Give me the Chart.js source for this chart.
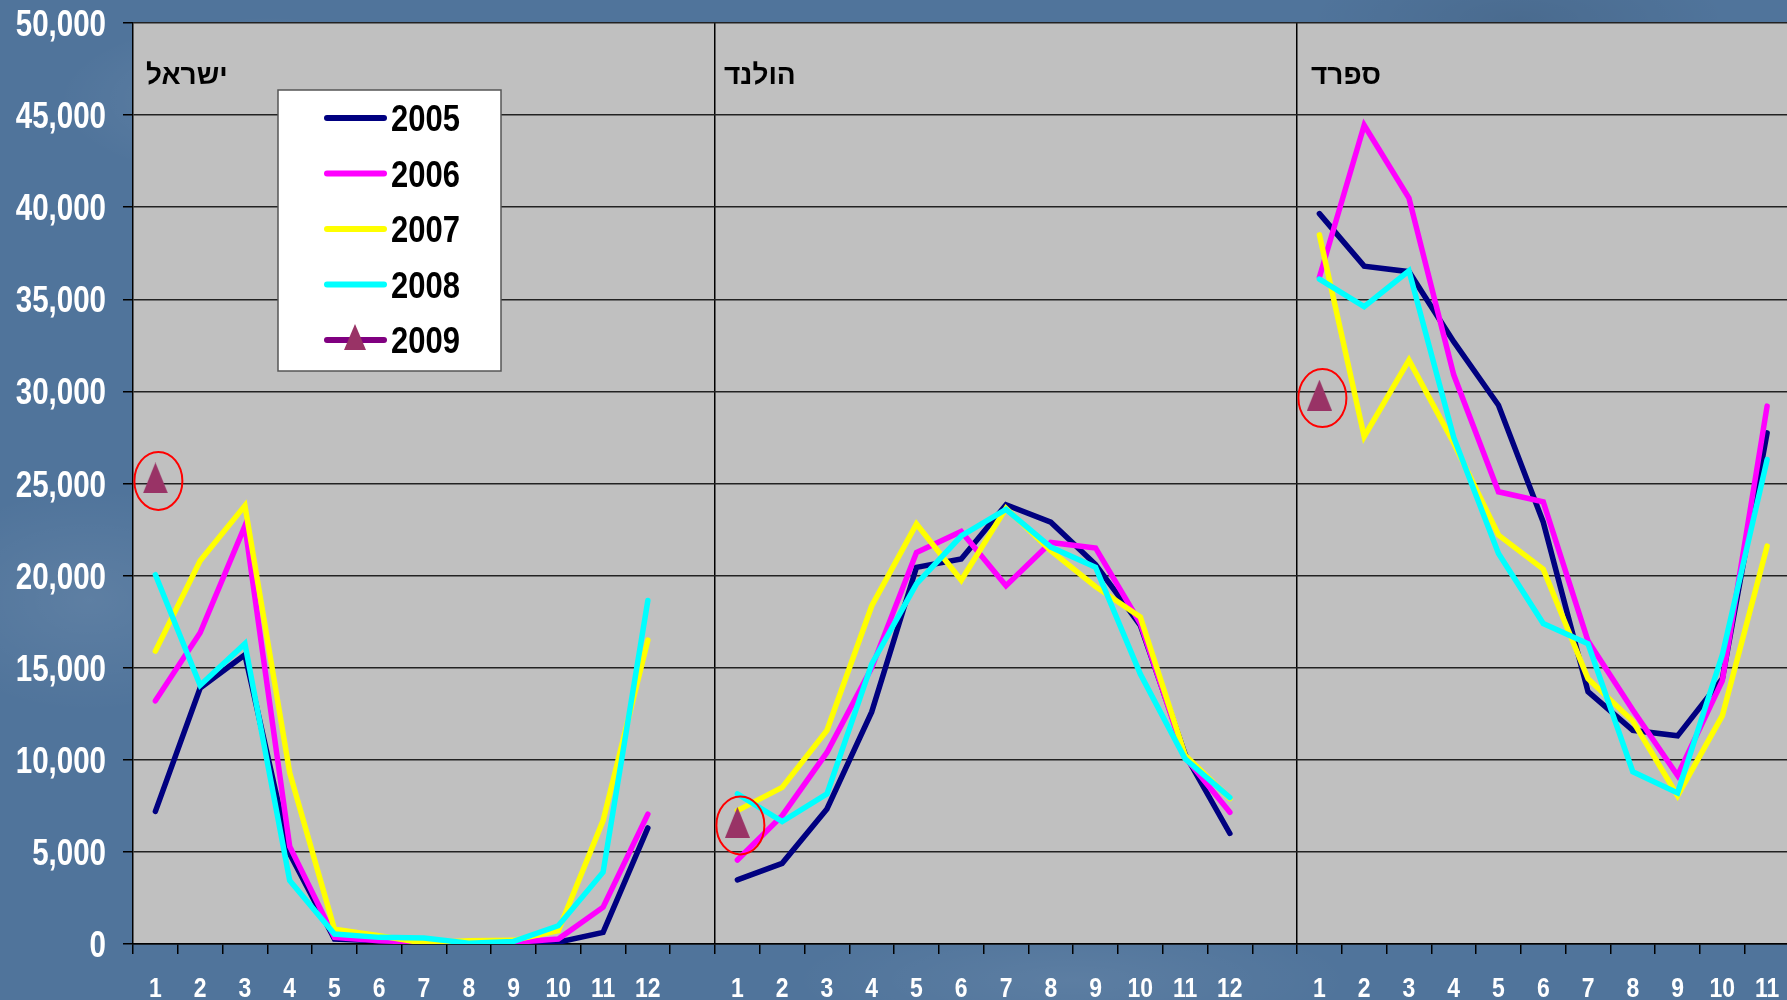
<!DOCTYPE html>
<html>
<head>
<meta charset="utf-8">
<script src="https://cdn.jsdelivr.net/npm/chart.js@4.4.1/dist/chart.umd.min.js"></script>
<style>
  html, body { margin: 0; padding: 0; width: 1787px; height: 1000px; overflow: hidden; }
  body {
    background-color: #50749b;
    background-image:
      radial-gradient(ellipse 300px 120px at 15% 10%, rgba(255,255,255,0.10), transparent 70%),
      radial-gradient(ellipse 250px 160px at 5% 60%, rgba(255,255,255,0.08), transparent 70%),
      radial-gradient(ellipse 400px 90px at 60% 98%, rgba(255,255,255,0.07), transparent 70%),
      radial-gradient(ellipse 300px 100px at 85% 2%, rgba(0,0,0,0.08), transparent 70%);
  }
  canvas { display: block; }
</style>
</head>
<body>
<!-- a few px wider than the window: the plot runs off the right edge like the slide -->
<canvas id="myChart" width="1790" height="1000"></canvas>
<script>
//~==== data ====~//
const months = ['1','2','3','4','5','6','7','8','9','10','11','12'];
const panelNames = ['ישראל', 'הולנד', 'ספרד'];
const years = ['2005', '2006', '2007', '2008', '2009'];

// ישראל
const isr2005 = [7200, 13900, 15700, 4900, 270, 180, 90, 0, 0, 100, 630, 6300];
const isr2006 = [13200, 16900, 22700, 5300, 360, 180, 90, 0, 90, 270, 2000, 7050];
const isr2007 = [15900, 20800, 23800, 9300, 800, 450, 50, 180, 200, 720, 6700, 16500];
const isr2008 = [20050, 14050, 16300, 3450, 540, 360, 330, 40, 140, 990, 3900, 18650];
const isr2009 = [25300];

// הולנד
const nld2005 = [3480, 4380, 7330, 12600, 20450, 20900, 23850, 22900, 20600, 17300, 10300, 6000];
const nld2006 = [4560, 6970, 10400, 15000, 21250, 22400, 19450, 21800, 21500, 17400, 10150, 7150];
const nld2007 = [7240, 8500, 11600, 18350, 22800, 19750, 23650, 21350, 19400, 17750, 10250, 7900];
const nld2008 = [8150, 6650, 8150, 15200, 19550, 22150, 23600, 21550, 20450, 14650, 10050, 7950];
const nld2009 = [6600];

// ספרד
const esp2005 = [39650, 36800, 36500, 32700, 29250, 22900, 13700, 11600, 11300, 14400, 27750];
const esp2006 = [36200, 44450, 40500, 30900, 24550, 24000, 16450, 12700, 9150, 14300, 29200];
const esp2007 = [38500, 27550, 31700, 27200, 22200, 20350, 14400, 12100, 8050, 12400, 21600];
const esp2008 = [36100, 34600, 36550, 27500, 21200, 17400, 16300, 9350, 8200, 15700, 26300];
const esp2009 = [29800];

const colors2005 = '#000080';
const colors2006 = '#ff00ff';
const colors2007 = '#ffff00';
const colors2008 = '#00ffff';
const line2009 = '#800080';
const marker2009 = '#993366';

//~==== build the long category axis: 3 panels, a blank slot between ====~//
const PANEL = 13;
const spainMonths = 11;   // picture is cut after month 11
const labels = [...months, '', ...months, '', ...months.slice(0, spainMonths)];

function pad(arr, n) {
  const out = arr.slice();
  while (out.length < n) out.push(null);
  return out;
}
function joinPanels(a, b, c) {
  return [...pad(a, PANEL), ...pad(b, PANEL), ...c.slice(0, spainMonths)];
}

function makeTriangle(w, h, color) {
  const c = document.createElement('canvas');
  c.width = w; c.height = h;
  const g = c.getContext('2d');
  g.fillStyle = color;
  g.beginPath();
  g.moveTo(w / 2, 0);
  g.lineTo(w, h);
  g.lineTo(0, h);
  g.closePath();
  g.fill();
  return c;
}
const triangle = makeTriangle(25, 31, marker2009);
const smallTriangle = makeTriangle(22, 26, marker2009);

const FONT = "'Liberation Sans', Arial, sans-serif";
const NARROW = 0.82;   // Arial Narrow look

function lineSet(label, data, color, order) {
  return {
    label: label,
    data: data,
    borderColor: color,
    backgroundColor: color,
    borderWidth: 5.5,
    borderJoinStyle: 'miter',
    borderCapStyle: 'round',
    pointRadius: 0,
    pointHoverRadius: 0,
    spanGaps: false,
    tension: 0,
    order: order,
  };
}

const datasets = [
  lineSet(years[0], joinPanels(isr2005, nld2005, esp2005), colors2005, 5),
  lineSet(years[1], joinPanels(isr2006, nld2006, esp2006), colors2006, 4),
  lineSet(years[2], joinPanels(isr2007, nld2007, esp2007), colors2007, 3),
  lineSet(years[3], joinPanels(isr2008, nld2008, esp2008), colors2008, 2),
  {
    label: years[4],
    data: joinPanels(isr2009, nld2009, esp2009),
    borderColor: line2009,
    backgroundColor: marker2009,
    showLine: false,
    pointStyle: triangle,
    pointRadius: 0.5,       // image is drawn at its own size; keep layout padding small
    pointBorderWidth: 0,
    pointHoverRadius: 0.5,
    order: 1,
  },
];

// draw text squeezed sideways
function narrowText(ctx, text, x, y, align, sx) {
  ctx.save();
  ctx.translate(x, y);
  ctx.scale(sx || NARROW, 1);
  ctx.textAlign = align;
  ctx.fillText(text, 0, 0);
  ctx.restore();
}

//!==== decorations ====!//
const plotBg = {
  id: 'plotBg',
  beforeDraw(chart) {
    const { ctx, chartArea: a } = chart;
    ctx.save();
    ctx.fillStyle = '#c0c0c0';
    ctx.fillRect(a.left, a.top, a.right - a.left, a.bottom - a.top);
    ctx.restore();
  },
};

const titleShift = [13, 9, 14];

const decor = {
  id: 'decor',
  afterDraw(chart) {
    const { ctx, chartArea: a, scales } = chart;
    const step = (a.right - a.left) / labels.length;
    ctx.save();

    // axis labels
    ctx.fillStyle = '#fff';
    ctx.textBaseline = 'alphabetic';
    ctx.font = 'bold 36px ' + FONT;
    scales.y.ticks.forEach((t) => {
      const y = scales.y.getPixelForValue(t.value);
      narrowText(ctx, t.value.toLocaleString('en-US'), 106, y + 13, 'right');
    });
    ctx.font = 'bold 28px ' + FONT;
    scales.x.ticks.forEach((t, i) => {
      const lab = labels[i];
      if (!lab) return;
      narrowText(ctx, lab, scales.x.getPixelForTick(i), 997, 'center');
    });

    // panel titles
    ctx.fillStyle = '#000';
    ctx.font = 'bold 28px ' + FONT;
    ctx.textAlign = 'left';
    panelNames.forEach((name, i) => {
      const left = a.left + i * PANEL * step;
      ctx.fillText(name, left + titleShift[i], 84);
    });

    // red rings round the 2009 marks
    const meta = chart.getDatasetMeta(4);
    ctx.strokeStyle = '#ff0000';
    ctx.lineWidth = 2;
    meta.data.forEach((pt, i) => {
      if (datasets[4].data[i] == null) return;
      ctx.beginPath();
      ctx.ellipse(pt.x + 3, pt.y + 3, 24, 29, 0, 0, Math.PI * 2);
      ctx.stroke();
    });

    // legend box
    const bx = 278, by = 90, bw = 223, bh = 281;
    ctx.fillStyle = '#fff';
    ctx.fillRect(bx, by, bw, bh);
    ctx.strokeStyle = '#555';
    ctx.lineWidth = 1.5;
    ctx.strokeRect(bx, by, bw, bh);
    ctx.font = 'bold 36px ' + FONT;
    datasets.forEach((ds, i) => {
      const cy = 118 + i * 55.5;
      ctx.strokeStyle = ds.borderColor;
      ctx.lineWidth = 6;
      ctx.lineCap = 'round';
      ctx.beginPath();
      ctx.moveTo(327, cy);
      ctx.lineTo(384, cy);
      ctx.stroke();
      if (i === 4) {
        ctx.drawImage(smallTriangle, 355 - smallTriangle.width / 2, cy - 16);
      }
      ctx.fillStyle = '#000';
      narrowText(ctx, ds.label, 391, cy + 13, 'left', 0.86);
    });
    ctx.restore();
  },
};

const ctx = document.getElementById('myChart');
new Chart(ctx, {
  type: 'line',
  data: { labels: labels, datasets: datasets },
  plugins: [plotBg, decor],
  options: {
    responsive: false,
    animation: false,
    devicePixelRatio: 1,
    layout: { padding: { top: 23, right: 0, bottom: 0, left: 0 } },
    plugins: { legend: { display: false }, tooltip: { enabled: false } },
    scales: {
      x: {
        type: 'category',
        offset: true,
        afterFit(axis) { axis.height = 56; },
        grid: {
          offset: true,
          color: (c) => (c.index === PANEL || c.index === PANEL * 2 ? '#000' : 'rgba(0,0,0,0)'),
          tickColor: '#000',
          tickLength: 10,
          lineWidth: 1.5,
        },
        border: { display: true, color: '#000', width: 1.5 },
        ticks: { display: false, autoSkip: false, maxRotation: 0 },
      },
      y: {
        min: 0,
        max: 50000,
        afterFit(axis) { axis.width = 133; },
        grid: { color: '#222', tickColor: '#000', tickLength: 10, lineWidth: 1.5 },
        border: { display: true, color: '#000', width: 1.5 },
        ticks: { display: false, stepSize: 5000 },
      },
    },
  },
});
</script>
</body>
</html>
